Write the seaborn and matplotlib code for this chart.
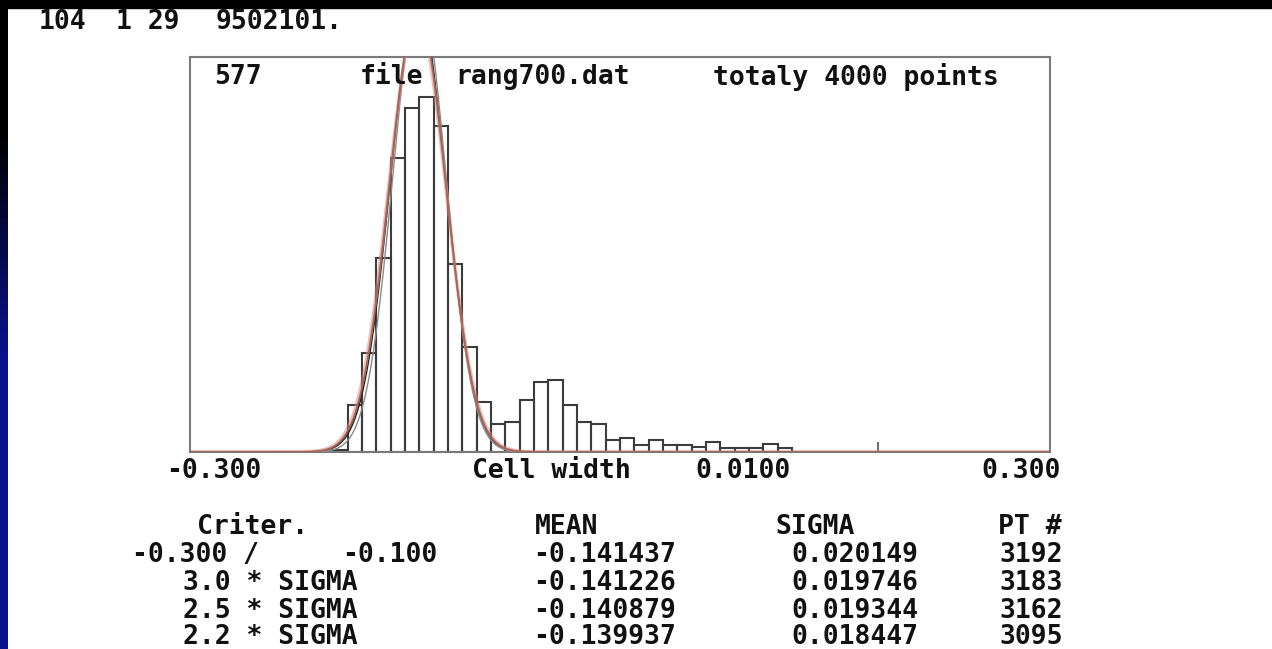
import numpy as np
import pandas as pd
import matplotlib
matplotlib.use("Agg")
import matplotlib.pyplot as plt
import seaborn as sns
from matplotlib.patches import Rectangle

# ---------------- data ----------------
x_min, x_max = -0.300, 0.300
cell_width = 0.0100
y_max = 577
total_points = 4000
file_name = "rang700.dat"
header_line = ["104", "1 29", "9502101."]

# counts per cell (60 cells from -0.300 to 0.300)
counts = [0, 0, 0, 0, 0, 0, 0, 0, 0, 2,
          3, 69, 145, 283, 429, 502, 519, 476, 275, 153,
          73, 41, 44, 76, 102, 105, 69, 44, 41, 18,
          20, 10, 18, 10, 10, 7, 15, 6, 6, 6,
          12, 6, 0, 0, 0, 0, 0, 0, 0, 0,
          0, 0, 0, 0, 0, 0, 0, 0, 0, 0]
marker_x = 0.18
marker_h = 15

criteria = ["-0.300 /", "3.0 * SIGMA", "2.5 * SIGMA", "2.2 * SIGMA"]
crit_hi = "-0.100"
means = [-0.141437, -0.141226, -0.140879, -0.139937]
sigmas = [0.020149, 0.019746, 0.019344, 0.018447]
npts = [3192, 3183, 3162, 3095]
curve_colors = ["#e08585", "#5c4520", "#222222", "#8a8a8a"]
curve_widths = [2.6, 1.3, 1.0, 1.0]
curve_z = [5, 4, 3, 3]
curve_alpha = [0.55, 1.0, 1.0, 1.0]

# ---------------- figure ----------------
W, H = 1272, 649
fig = plt.figure(figsize=(W / 100, H / 100), dpi=100)
fig.patch.set_facecolor("white")
sns.set_style("white")

def px(x, y):
    return x / W, 1 - y / H

# top black band
fig.patches.append(Rectangle((0, 1 - 8 / H), 1, 8 / H, transform=fig.transFigure,
                             color="black", zorder=0))
# left gradient strip
sax = fig.add_axes([0, 0, 8 / W, 1])
t = np.linspace(0, 1, 300)
frac = np.clip((t - 0.2) / 0.35, 0, 1)
navy = np.array([0.04, 0.07, 0.55])
grad = (frac[:, None] * navy[None, :])[:, None, :]
sax.imshow(grad, aspect="auto", extent=[0, 1, 0, 1])
sax.axis("off")

# main axes
L, R, T, B = 190, 1050, 57, 452
ax = fig.add_axes([L / W, 1 - B / H, (R - L) / W, (B - T) / H])
n_cells = len(counts)
centers = [round(x_min + cell_width * (i + 0.5), 4) for i in range(n_cells)]
df = pd.DataFrame({"x": centers, "w": counts})
sns.histplot(data=df, x="x", weights="w", binwidth=cell_width,
             binrange=(x_min, x_max), fill=False, element="bars",
             color="#3c3c3c", linewidth=1.5, ax=ax, zorder=2)

xs = np.linspace(x_min, x_max, 2401)
for m, s, n, c, lw, z, a in zip(means, sigmas, npts, curve_colors, curve_widths,
                                curve_z, curve_alpha):
    ys = n * cell_width / (s * np.sqrt(2 * np.pi)) * np.exp(-0.5 * ((xs - m) / s) ** 2)
    sns.lineplot(x=xs, y=ys, color=c, linewidth=lw, alpha=a, ax=ax, zorder=z)

ax.vlines(marker_x, 0, marker_h, color="#707070", linewidth=1.5, zorder=3)
ax.set_xlim(x_min, x_max)
ax.set_ylim(0, y_max)
ax.set_xlabel("")
ax.set_ylabel("")
ax.set_yticks([])
ax.set_xticks(np.linspace(x_min, x_max, n_cells + 1))
ax.tick_params(axis="x", direction="in", length=3, width=1, color="#777777",
               labelbottom=False)
for sp in ax.spines.values():
    sp.set_visible(True)
    sp.set_color("#7a7a7a")
    sp.set_linewidth(1.5)

# ---------------- texts ----------------
fp = dict(family="DejaVu Sans Mono", weight="bold", size=19, color="#111111",
          ha="center", va="center")

def txt(x, y, s):
    fig.text(*px(x, y), s, **fp)

for s, x in zip(header_line, [62, 148, 279]):
    txt(x, 22, s)

txt(238, 77, str(y_max))
txt(391, 77, "file")
txt(543, 77, file_name)
txt(856, 77, f"totaly {total_points} points")

txt(214, 471, f"{x_min:.3f}")
txt(551, 471, "Cell width")
txt(743, 471, f"{cell_width:.4f}")
txt(1021, 471, f"{x_max:.3f}")

txt(253, 527, "Criter.")
txt(567, 527, "MEAN")
txt(815, 527, "SIGMA")
txt(1030, 527, "PT #")

rows_y = [555, 583, 611, 637]
for i, y in enumerate(rows_y):
    if i == 0:
        txt(195, y, criteria[0])
        txt(390, y, crit_hi)
    else:
        txt(270, y, criteria[i])
    txt(605, y, f"{means[i]:.6f}")
    txt(855, y, f"{sigmas[i]:.6f}")
    txt(1031, y, f"{npts[i]}")

fig.savefig("out.png", dpi=100)
